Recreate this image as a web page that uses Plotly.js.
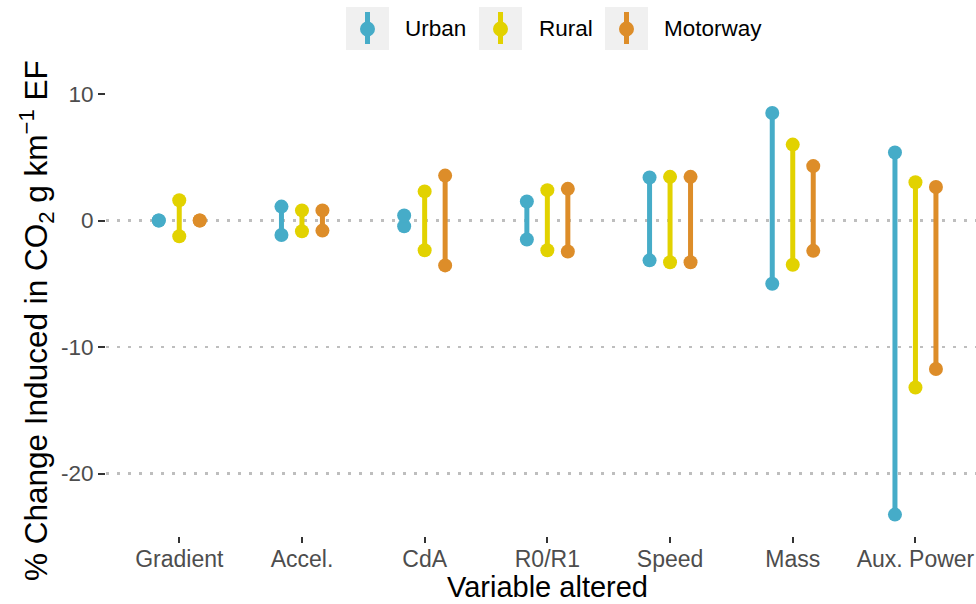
<!DOCTYPE html>
<html>
<head>
<meta charset="utf-8">
<script src="https://cdn.plot.ly/plotly-3.0.1.min.js"></script>
<style>html,body{margin:0;padding:0;background:#fff;}#chart{width:976px;height:604px;}</style>
</head>
<body>
<div id="chart"></div>
<script>
// ---- data ----
const categories = ["Gradient", "Accel.", "CdA", "R0/R1", "Speed", "Mass", "Aux. Power"];
const seriesNames = ["Urban", "Rural", "Motorway"];
const urbanLow  = [0.0, -1.15, -0.45, -1.5, -3.15, -5.0, -23.25];
const urbanHigh = [0.0,  1.1,   0.4,   1.5,  3.4,   8.5,   5.38];
const ruralLow  = [-1.25, -0.85, -2.35, -2.35, -3.3, -3.5, -13.2];
const ruralHigh = [1.6,    0.8,   2.3,   2.4,   3.45, 6.0,   3.02];
const motorLow  = [0.0, -0.8, -3.55, -2.45, -3.3, -2.4, -11.74];
const motorHigh = [0.0,  0.8,  3.55,  2.5,   3.45, 4.3,   2.65];
const yTicks = [-20, -10, 0, 10];

// ---- styling ----
const colors = ["#46ACC8", "#E2D200", "#DD8D29"];
const dodge = [-0.167, 0, 0.167];
const FONT = "Liberation Sans, Arial, sans-serif";

const lows = [urbanLow, ruralLow, motorLow];
const highs = [urbanHigh, ruralHigh, motorHigh];

const traces = seriesNames.map((name, s) => {
  const xs = [], ys = [];
  categories.forEach((c, i) => {
    xs.push(i + 1 + dodge[s], i + 1 + dodge[s], null);
    ys.push(lows[s][i], highs[s][i], null);
  });
  return {
    type: "scatter", mode: "lines+markers", name: name,
    x: xs, y: ys, connectgaps: false, showlegend: false,
    line: {color: colors[s], width: 5},
    marker: {color: colors[s], size: 14},
    hoverinfo: "skip"
  };
});

// layout geometry (pixels)
const L = 106, T = 93, B = 68, R = 0, W = 976, H = 604;
const pw = W - L - R, ph = H - T - B;
const px = v => (v - L) / pw;
const py = v => (H - B - v) / ph;

// custom legend
const shapes = [], annotations = [];
const boxLeft = [346, 479, 605];
const textLeft = [403, 537, 662];
seriesNames.forEach((name, s) => {
  const x0 = boxLeft[s], x1 = x0 + 43, cx = (x0 + x1) / 2;
  shapes.push({type: "rect", xref: "paper", yref: "paper",
    x0: px(x0), x1: px(x1), y0: py(50), y1: py(7),
    fillcolor: "#F0F0F0", line: {width: 0}, layer: "above"});
  shapes.push({type: "line", xref: "paper", yref: "paper",
    x0: px(cx), x1: px(cx), y0: py(44), y1: py(12),
    line: {color: colors[s], width: 5}, layer: "above"});
  shapes.push({type: "circle", xref: "paper", yref: "paper",
    x0: px(cx - 7.5), x1: px(cx + 7.5), y0: py(36.5), y1: py(21.5),
    fillcolor: colors[s], line: {width: 0}, layer: "above"});
  annotations.push({xref: "paper", yref: "paper", x: px(textLeft[s]), y: py(29),
    xanchor: "left", yanchor: "middle", showarrow: false, text: name,
    font: {family: FONT, size: 22.5, color: "#000"}});
});
// x axis title (centered on the original panel)
annotations.push({xref: "paper", yref: "paper", x: px(547.5), y: py(587),
  xanchor: "center", yanchor: "middle", showarrow: false, text: "Variable altered",
  font: {family: FONT, size: 29, color: "#000"}});
// y axis title
annotations.push({xref: "paper", yref: "paper", x: px(36), y: py(321),
  xanchor: "center", yanchor: "middle", showarrow: false, textangle: -90,
  text: "% Change Induced in CO<sub>2</sub> g km<sup>\u22121</sup> EF",
  font: {family: FONT, size: 31.5, color: "#000"}});

const layout = {
  width: W, height: H,
  margin: {l: L, r: R, t: T, b: B, pad: 0},
  paper_bgcolor: "#fff", plot_bgcolor: "#fff",
  font: {family: FONT},
  showlegend: false,
  xaxis: {
    range: [0.403, 0.403 + pw / 122.7],
    tickmode: "array", tickvals: categories.map((c, i) => i + 1), ticktext: categories,
    ticks: "outside", ticklen: 6, tickwidth: 2, tickcolor: "#333",
    ticklabelstandoff: -4,
    tickfont: {family: FONT, size: 23, color: "#4D4D4D"},
    showgrid: false, zeroline: false, showline: false, fixedrange: true
  },
  yaxis: {
    range: [10 - (H - B - 94) / 12.65, 10 + (94 - T) / 12.65],
    tickmode: "array", tickvals: yTicks, ticktext: yTicks.map(String),
    ticks: "outside", ticklen: 7, tickwidth: 2, tickcolor: "#333",
    tickfont: {family: FONT, size: 22.5, color: "#4D4D4D"},
    showgrid: true, gridcolor: "#BEBEBE", gridwidth: 2.5, griddash: "3px,8px",
    zeroline: false, showline: false, fixedrange: true
  },
  shapes: shapes,
  annotations: annotations
};

Plotly.newPlot("chart", traces, layout, {staticPlot: true, displayModeBar: false});
</script>
</body>
</html>
